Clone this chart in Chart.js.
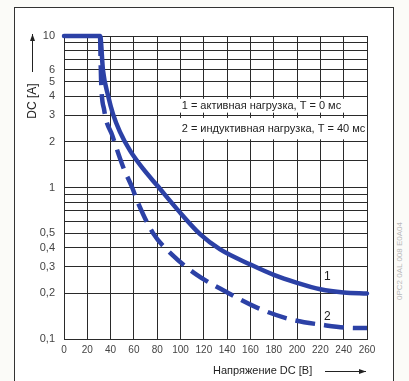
<!DOCTYPE html>
<html>
<head>
<meta charset="utf-8">
<script src="https://cdn.jsdelivr.net/npm/chart.js@4/dist/chart.umd.min.js"></script>
<style>
  html, body { margin: 0; padding: 0; background: #fbfbf8; }
  #wrap { position: relative; width: 409px; height: 381px; overflow: hidden; }
  #frame { position: absolute; left: 14px; top: 7px; width: 378px; height: 420px; border: 1.5px solid #333; background: #fff; }
  #side { position: absolute; left: 395px; top: 300px; font: 8px "Liberation Sans", Arial, sans-serif; color: #b8b8b8;
          transform: rotate(-90deg); transform-origin: left top; white-space: nowrap; }
  canvas { position: absolute; left: 0; top: 0; }
</style>
</head>
<body>
<div id="wrap">
  <div id="frame"></div>
  <div id="side">0PC2 0AL 008 E0A04</div>
  <canvas id="chart" width="409" height="381"></canvas>
</div>
<script>
// curve 1: активная нагрузка (solid)
const voltage1 = [0, 31, 33.5, 37.8, 42, 48, 56.7, 67.8, 80, 97, 117, 134, 160, 180, 200, 220, 240, 260];
const current1 = [10, 10, 5.9, 4.05, 3.06, 2.33, 1.75, 1.33, 1.03, 0.72, 0.49, 0.39, 0.31, 0.265, 0.235, 0.213, 0.203, 0.2];
// curve 2: индуктивная нагрузка (dashed)
const voltage2 = [31, 31.8, 34.5, 41.5, 51, 58.5, 63, 76.4, 92.7, 114, 139, 166.5, 194, 221.5, 250, 260];
const current2 = [10, 5.2, 3.24, 2.2, 1.35, 1.0, 0.81, 0.5, 0.36, 0.265, 0.205, 0.16, 0.135, 0.124, 0.118, 0.118];

const yLabels = [0.1, 0.2, 0.3, 0.4, 0.5, 1, 2, 3, 4, 5, 6, 10];
const legendLines = ['1 = активная нагрузка, T = 0 мс', '2 = индуктивная нагрузка, T = 40 мс'];
const xTitle = 'Напряжение DC [B]';
const yTitle = 'DC [A]';

const blue = '#2c41a6';
const font = '"Liberation Sans", Arial, sans-serif';

function pts(xs, ys) { return xs.map((v, i) => ({ x: v, y: ys[i] })); }

function arrow(ctx, x1, y1, x2, y2) {
    const a = Math.atan2(y2 - y1, x2 - x1);
    ctx.beginPath();
    ctx.moveTo(x1, y1);
    ctx.lineTo(x2, y2);
    ctx.stroke();
    ctx.beginPath();
    ctx.moveTo(x2, y2);
    ctx.lineTo(x2 - 7 * Math.cos(a) + 2.5 * Math.sin(a), y2 - 7 * Math.sin(a) - 2.5 * Math.cos(a));
    ctx.lineTo(x2 - 7 * Math.cos(a) - 2.5 * Math.sin(a), y2 - 7 * Math.sin(a) + 2.5 * Math.cos(a));
    ctx.closePath();
    ctx.fill();
}

const extras = {
    id: 'extras',
    beforeDatasetsDraw(chart) {
        const { ctx, scales: { x, y } } = chart;
        ctx.save();
        // white label boxes over the grid
        const rows = [[3.85, 3.12, 3.47], [2.88, 2.08, 2.45]];
        ctx.fillStyle = '#fff';
        rows.forEach(r => {
            const top = y.getPixelForValue(r[0]);
            const bot = y.getPixelForValue(r[1]);
            ctx.fillRect(x.getPixelForValue(99), top, x.getPixelForValue(258) - x.getPixelForValue(99), bot - top);
        });
        ctx.fillStyle = '#222';
        ctx.font = '11px ' + font;
        ctx.textBaseline = 'middle';
        rows.forEach((r, i) => {
            ctx.fillText(legendLines[i], x.getPixelForValue(101), y.getPixelForValue(r[2]));
        });
        ctx.restore();
    },
    afterDraw(chart) {
        const { ctx, scales: { x, y } } = chart;
        ctx.save();
        ctx.fillStyle = '#222';
        ctx.strokeStyle = '#222';
        ctx.lineWidth = 1;
        // curve labels
        ctx.font = '12px ' + font;
        ctx.textAlign = 'center';
        ctx.textBaseline = 'middle';
        ctx.fillText('1', x.getPixelForValue(226), y.getPixelForValue(0.256));
        ctx.fillText('2', x.getPixelForValue(226), y.getPixelForValue(0.14));
        // x title + arrow
        ctx.font = '11px ' + font;
        ctx.textAlign = 'left';
        ctx.fillText(xTitle, 213, 371);
        arrow(ctx, 325, 371.5, 366, 371.5);
        // y title + arrow
        ctx.save();
        ctx.translate(33, 101);
        ctx.rotate(-Math.PI / 2);
        ctx.font = '12px ' + font;
        ctx.textAlign = 'center';
        ctx.fillText(yTitle, 0, 0);
        ctx.restore();
        arrow(ctx, 32.5, 72, 32.5, 34);
        ctx.restore();
    }
};

new Chart(document.getElementById('chart'), {
    type: 'line',
    data: {
        datasets: [
            { data: pts(voltage1, current1), borderColor: blue, borderWidth: 4.5, pointRadius: 0,
              cubicInterpolationMode: 'monotone', clip: 6, borderCapStyle: 'round' },
            { data: pts(voltage2, current2), borderColor: blue, borderWidth: 4.5, pointRadius: 0,
              borderDash: [20, 9], cubicInterpolationMode: 'monotone', clip: 6 }
        ]
    },
    options: {
        responsive: false,
        animation: false,
        events: [],
        layout: { padding: { left: 20, top: 36, right: 42, bottom: 10 } },
        plugins: { legend: { display: false }, tooltip: { enabled: false } },
        scales: {
            x: {
                type: 'linear', min: 0, max: 260,
                afterFit(s) { s.height = 32; },
                grid: { color: '#2a2a2a', lineWidth: 1, drawTicks: false },
                border: { color: '#2a2a2a', width: 1 },
                ticks: { stepSize: 20, padding: 5, color: '#444', font: { family: font, size: 10 }, maxRotation: 0, autoSkip: false }
            },
            y: {
                type: 'logarithmic', min: 0.1, max: 10,
                afterFit(s) { s.width = 44; },
                grid: { color: '#2a2a2a', lineWidth: 1, drawTicks: false },
                border: { color: '#2a2a2a', width: 1 },
                ticks: {
                    padding: 9, color: '#444', font: { family: font, size: 11 }, autoSkip: false,
                    callback: v => yLabels.some(l => Math.abs(l - v) < 1e-9) ? String(v).replace('.', ',') : ''
                }
            }
        }
    },
    plugins: [extras]
});
</script>
</body>
</html>
